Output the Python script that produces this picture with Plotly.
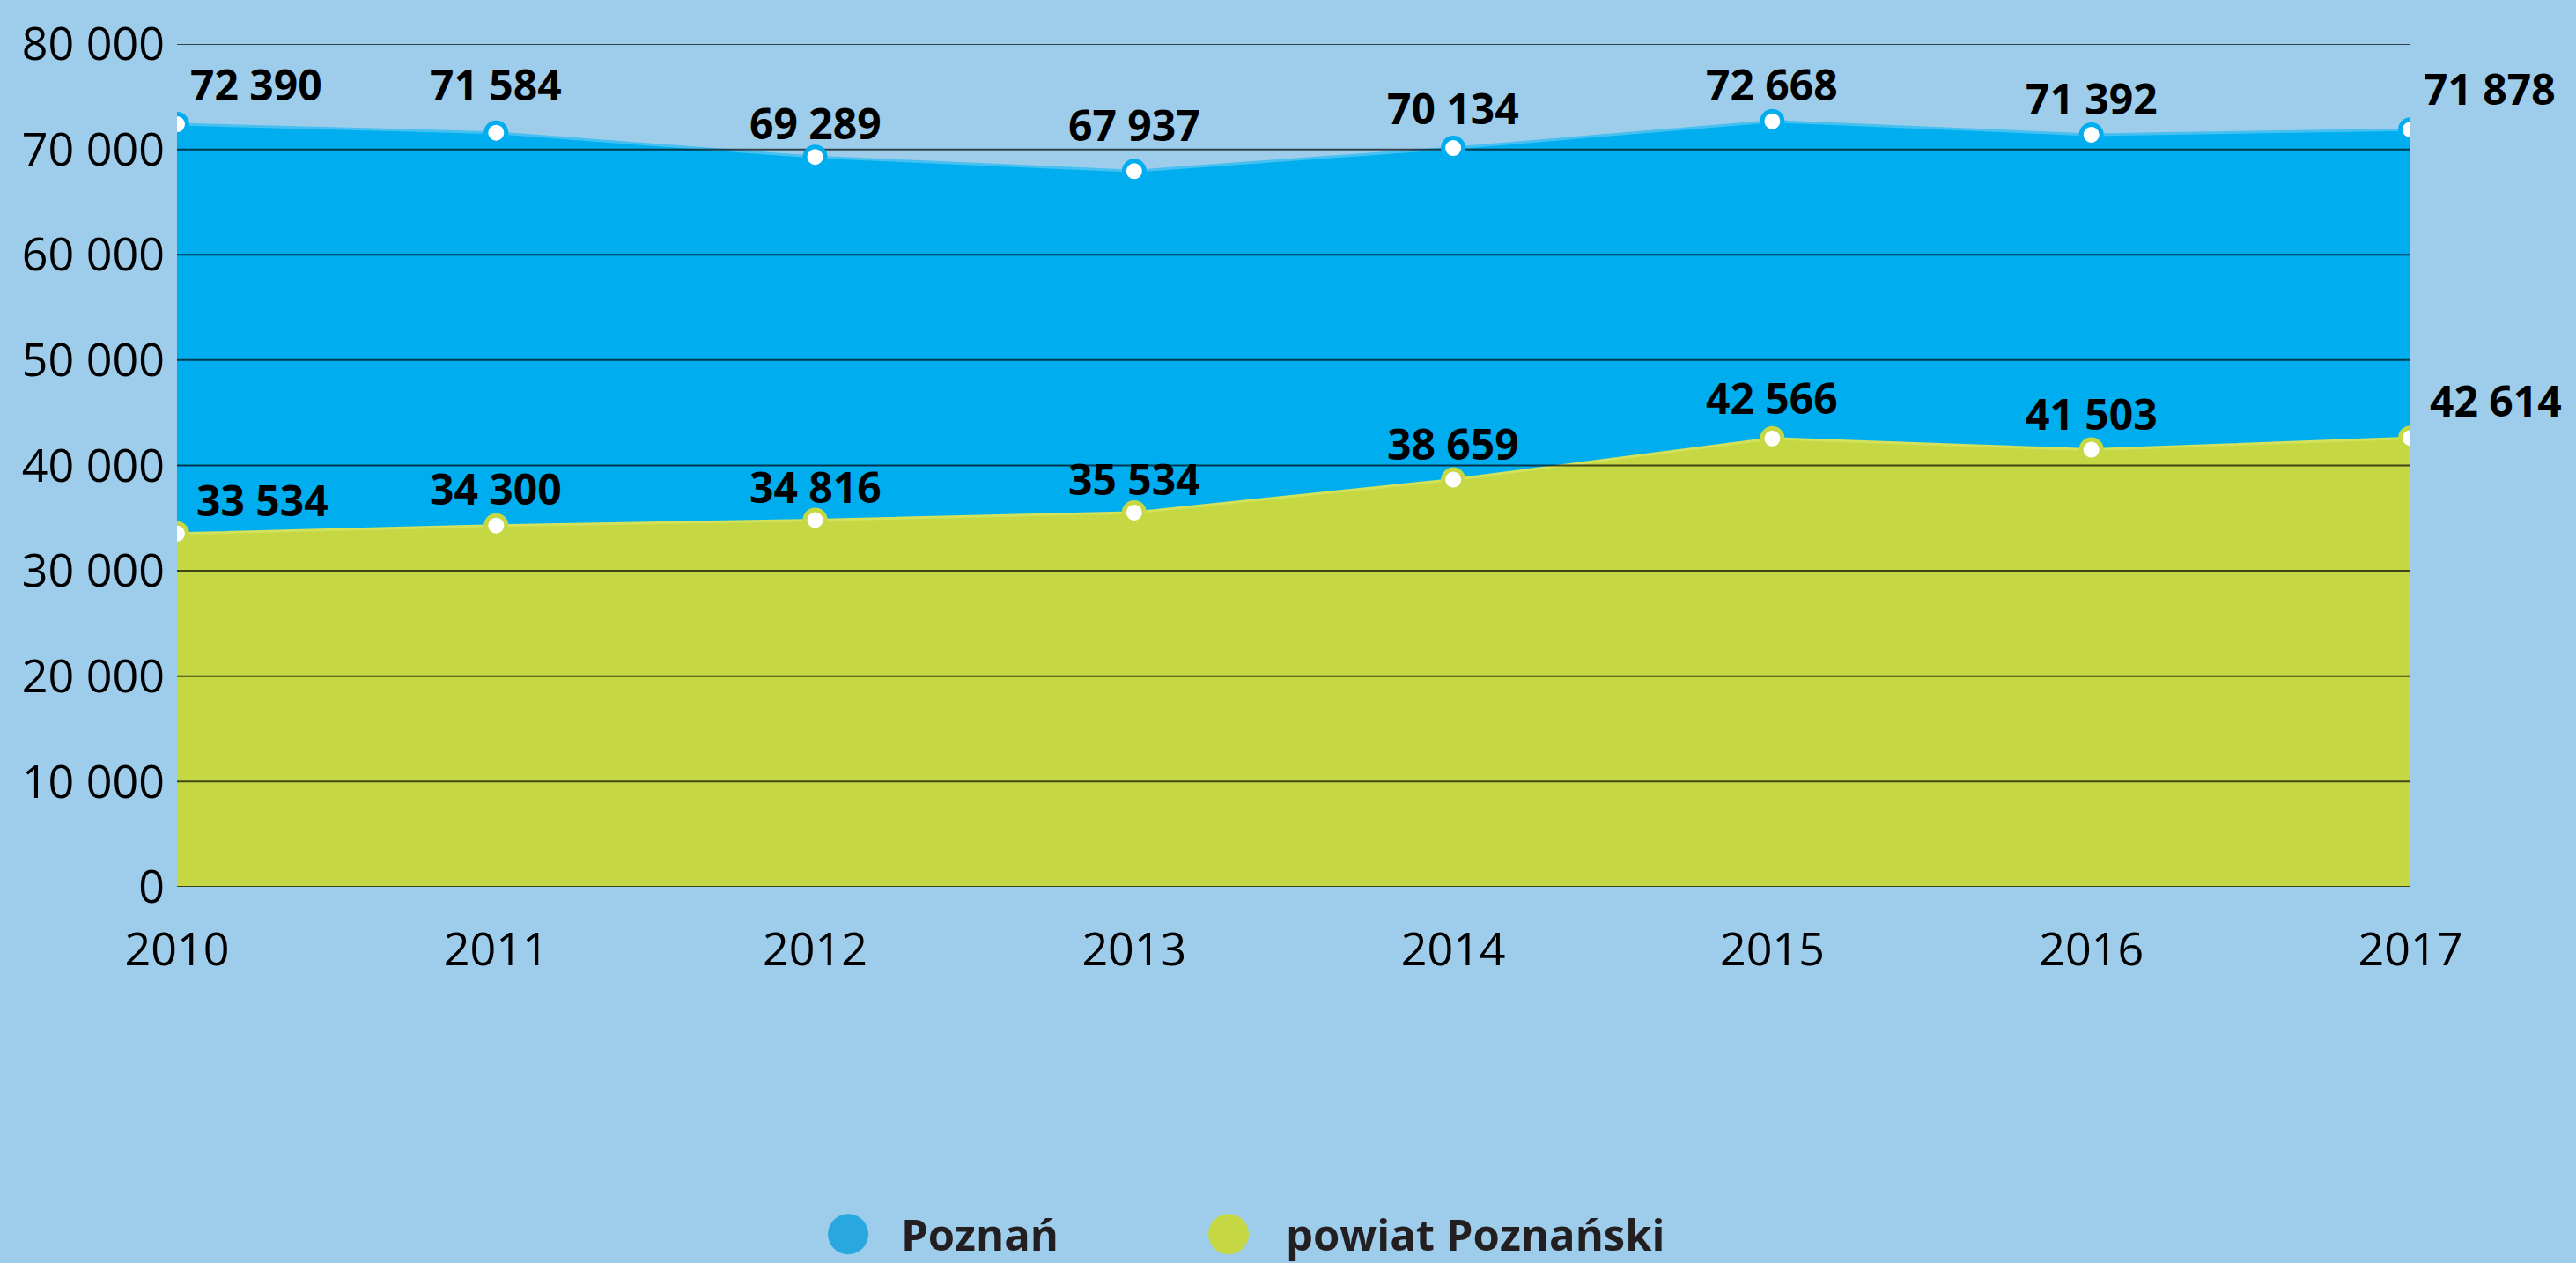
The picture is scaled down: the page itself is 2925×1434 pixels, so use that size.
import plotly.graph_objects as go

years = [2010, 2011, 2012, 2013, 2014, 2015, 2016, 2017]
poznan = [72390, 71584, 69289, 67937, 70134, 72668, 71392, 71878]
powiat = [33534, 34300, 34816, 35534, 38659, 42566, 41503, 42614]
series_names = ["Poznań", "powiat Poznański"]
y_ticks = [0, 10000, 20000, 30000, 40000, 50000, 60000, 70000, 80000]

# label placement (style, in pixels above each point)
poznan_label_dy = [46, 55, 39, 53, 46, 42, 41, 47]
powiat_label_dy = [38, 42, 38, 38, 41, 46, 41, 43]
poznan_edge_dx = 13
powiat_edge_dx = 20

BG = "#9ECDEB"
BLUE = "#00AEEF"
BLUE_EDGE = "#45C0F0"
GREEN = "#C5D844"
GREEN_EDGE = "#D2E25A"
LEG_BLUE = "#29A8E0"
FONT = "Open Sans"


def fmt(v):
    return f"{v:,}".replace(",", " ")


fig = go.Figure()

# filled areas (no markers)
fig.add_trace(go.Scatter(x=years, y=powiat, mode="lines", fill="tozeroy",
                         fillcolor=GREEN, line=dict(color=GREEN_EDGE, width=3),
                         showlegend=False, hoverinfo="skip"))
fig.add_trace(go.Scatter(x=years, y=poznan, mode="lines", fill="tonexty",
                         fillcolor=BLUE, line=dict(color=BLUE_EDGE, width=3),
                         showlegend=False, hoverinfo="skip"))

# gridlines drawn over the fills but under the markers
gx, gy = [], []
for t in y_ticks:
    gx += [years[0], years[-1], None]
    gy += [t, t, None]
fig.add_trace(go.Scatter(x=gx, y=gy, mode="lines",
                         line=dict(color="rgba(0,0,0,0.68)", width=2),
                         showlegend=False, hoverinfo="skip"))

# markers
fig.add_trace(go.Scatter(x=years, y=powiat, mode="markers", name=series_names[1],
                         marker=dict(size=23, color="white", line=dict(color=GREEN, width=5)),
                         showlegend=False))
fig.add_trace(go.Scatter(x=years, y=poznan, mode="markers", name=series_names[0],
                         marker=dict(size=23, color="white", line=dict(color=BLUE, width=5)),
                         showlegend=False))

# data labels
annotations = []
n = len(years)
for series, dys, edx in ((poznan, poznan_label_dy, poznan_edge_dx),
                         (powiat, powiat_label_dy, powiat_edge_dx)):
    for i, (x, v) in enumerate(zip(years, series)):
        edge = i == 0 or i == n - 1
        annotations.append(dict(
            x=x, y=v, xref="x", yref="y", text=fmt(v), showarrow=False,
            xanchor="left" if edge else "center", yanchor="middle",
            xshift=edx if edge else 0, yshift=dys[i],
            font=dict(family=FONT, size=48, color="#000000", weight="bold")))

# manual legend
leg_y = -0.412
leg_items = [(series_names[0], LEG_BLUE, 0.3005, 0.3235),
             (series_names[1], GREEN, 0.4708, 0.4955)]
shapes = []
for name, col, cx, tx in leg_items:
    shapes.append(dict(type="circle", xref="paper", yref="paper",
                       xsizemode="pixel", ysizemode="pixel",
                       xanchor=cx, yanchor=leg_y, x0=-23, x1=23, y0=-23, y1=23,
                       fillcolor=col, line=dict(width=0)))
    annotations.append(dict(x=tx, y=leg_y, xref="paper", yref="paper", text=name,
                            showarrow=False, xanchor="left", yanchor="middle",
                            font=dict(family=FONT, size=49, color="#231F20", weight="bold")))

fig.update_layout(
    width=2925, height=1434,
    paper_bgcolor=BG, plot_bgcolor=BG,
    margin=dict(l=201, r=188, t=45, b=427),
    showlegend=False,
    font=dict(family=FONT, color="#000000"),
    separators=". ",
    annotations=annotations,
    shapes=shapes,
    xaxis=dict(range=[years[0], years[-1]], tickvals=years, ticktext=[str(y) for y in years],
               showgrid=False, zeroline=False, showline=False,
               tickfont=dict(family=FONT, size=52, color="#000000"),
               ticks="", ticklabelstandoff=36),
    yaxis=dict(range=[0, 80000], tickvals=y_ticks, ticktext=[fmt(t) for t in y_ticks],
               showgrid=False, zeroline=False, showline=False,
               tickfont=dict(family=FONT, size=52, color="#000000"),
               ticks="", ticklabelstandoff=13),
)

fig.write_html("out.html", config={"displayModeBar": False},
               post_script="document.body.style.margin='0';document.body.style.overflow='hidden';")
